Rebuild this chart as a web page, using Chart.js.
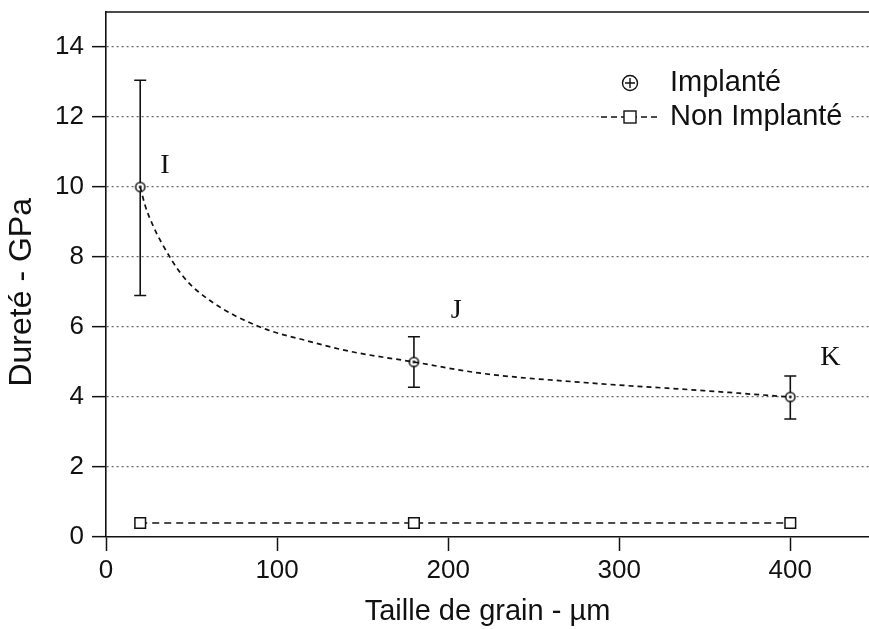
<!DOCTYPE html>
<html><head><meta charset="utf-8">
<script src="https://cdn.jsdelivr.net/npm/chart.js@4/dist/chart.umd.min.js"></script>
<style>html,body{margin:0;padding:0;background:#fff}#wrap{width:869px;height:629px;position:relative}</style>
</head><body><div id="wrap"><canvas id="c"></canvas></div>
<script>
// ---- data ----
const grainSizes = [20, 180, 400];
const hardnessImplanted = [10, 5.0, 4.0];
const errLow = [6.9, 4.28, 3.37];
const errHigh = [13.05, 5.72, 4.6];
const hardnessNonImplanted = [0.4, 0.4, 0.4];
const fitX = [20, 23, 27, 32, 45, 61, 90, 118, 143, 180, 219, 283, 347, 400];
const fitY = [10, 9.45, 8.95, 8.45, 7.45, 6.75, 6.0, 5.6, 5.3, 5.0, 4.68, 4.4, 4.19, 4.0];
const xTicks = [0, 100, 200, 300, 400];
const yTicks = [0, 2, 4, 6, 8, 10, 12, 14];
const pointLabels = ['I', 'J', 'K'];
const labelX = [34.5, 204.7, 423.4];
const labelY = [10.6, 6.47, 5.13];
const legendLabels = ['Implanté', 'Non Implanté'];
const xTitle = 'Taille de grain - µm';
const yTitle = 'Dureté - GPa\u00a0\u00a0\u00a0\u00a0';

const SANS = "'Liberation Sans', Arial, sans-serif";
const SERIF = "'Liberation Serif', 'Times New Roman', serif";
const INK = '#111';

// marker: circle with centre dot
const mk = document.createElement('canvas');
mk.width = 13; mk.height = 13;
(function(){
  const c = mk.getContext('2d');
  c.beginPath(); c.arc(6.5, 6.5, 4.6, 0, Math.PI*2);
  c.fillStyle = '#fff'; c.fill();
  c.lineWidth = 1.5; c.strokeStyle = INK; c.stroke();
  c.beginPath(); c.arc(6.5, 6.5, 1.4, 0, Math.PI*2); c.fillStyle = INK; c.fill();
})();

const errorBars = {
  id: 'errorBars',
  beforeDatasetsDraw(chart) {
    const {ctx, scales: {x, y}} = chart;
    ctx.save();
    ctx.strokeStyle = INK; ctx.lineWidth = 1.6; ctx.setLineDash([]);
    grainSizes.forEach((g, i) => {
      const px = x.getPixelForValue(g);
      const lo = y.getPixelForValue(errLow[i]);
      const hi = y.getPixelForValue(errHigh[i]);
      ctx.beginPath();
      ctx.moveTo(px, lo); ctx.lineTo(px, hi);
      ctx.moveTo(px - 6, lo); ctx.lineTo(px + 6, lo);
      ctx.moveTo(px - 6, hi); ctx.lineTo(px + 6, hi);
      ctx.stroke();
    });
    ctx.restore();
  }
};

const decorations = {
  id: 'decorations',
  afterDraw(chart) {
    const {ctx, chartArea: a, scales: {x, y}} = chart;
    ctx.save();
    // top frame line
    ctx.strokeStyle = INK; ctx.lineWidth = 1.6; ctx.setLineDash([]);
    ctx.beginPath(); ctx.moveTo(a.left, a.top); ctx.lineTo(a.right, a.top); ctx.stroke();
    // point labels
    ctx.fillStyle = INK; ctx.font = "28px " + SERIF;
    ctx.textAlign = 'center'; ctx.textBaseline = 'middle';
    pointLabels.forEach((t, i) => ctx.fillText(t, x.getPixelForValue(labelX[i]), y.getPixelForValue(labelY[i])));
    // legend
    const symX = a.right - 239, txtX = a.right - 199;
    const r1 = a.top + 71, r2 = a.top + 105;
    ctx.fillStyle = '#fff';
    ctx.fillRect(symX - 31, r2 - 10, 252, 20);
    // row 1 symbol: circle with plus
    ctx.strokeStyle = INK; ctx.lineWidth = 1.4;
    ctx.beginPath(); ctx.arc(symX, r1, 7.5, 0, Math.PI*2); ctx.stroke();
    ctx.beginPath();
    ctx.moveTo(symX - 5, r1); ctx.lineTo(symX + 5, r1);
    ctx.moveTo(symX, r1 - 5); ctx.lineTo(symX, r1 + 5);
    ctx.stroke();
    // row 2 symbol: dashed line + square
    ctx.setLineDash([6, 4]);
    ctx.beginPath(); ctx.moveTo(symX - 29, r2); ctx.lineTo(symX + 27, r2); ctx.stroke();
    ctx.setLineDash([]);
    ctx.fillStyle = '#fff';
    ctx.fillRect(symX - 6, r2 - 6, 12, 12);
    ctx.strokeRect(symX - 6, r2 - 6, 12, 12);
    ctx.fillStyle = INK; ctx.font = "29px " + SANS;
    ctx.textAlign = 'left';
    ctx.fillText(legendLabels[0], txtX, r1);
    ctx.fillText(legendLabels[1], txtX, r2);
    ctx.restore();
  }
};

new Chart(document.getElementById('c'), {
  type: 'scatter',
  data: {
    datasets: [
      {
        label: 'fit',
        data: fitX.map((v, i) => ({x: v, y: fitY[i]})),
        showLine: true, pointRadius: 0, borderColor: INK, borderWidth: 1.7,
        borderDash: [5, 4], cubicInterpolationMode: 'monotone', fill: false
      },
      {
        label: legendLabels[1],
        data: grainSizes.map((g, i) => ({x: g, y: hardnessNonImplanted[i]})),
        showLine: true, borderColor: INK, borderWidth: 1.5, borderDash: [7, 5],
        pointStyle: 'rect', pointRadius: 7.5, pointBackgroundColor: '#fff',
        pointBorderColor: INK, pointBorderWidth: 1.5
      },
      {
        label: legendLabels[0],
        data: grainSizes.map((g, i) => ({x: g, y: hardnessImplanted[i]})),
        showLine: false, pointStyle: mk, pointRadius: 6
      }
    ]
  },
  options: {
    responsive: true, maintainAspectRatio: false, animation: false,
    devicePixelRatio: 1,
    layout: {autoPadding: false, padding: {top: 12, right: 0, bottom: 0, left: 0}},
    plugins: {legend: {display: false}, tooltip: {enabled: false}},
    scales: {
      x: {
        type: 'linear', min: 0, max: 446,
        afterBuildTicks: s => { s.ticks = xTicks.map(v => ({value: v})); },
        afterFit: s => { s.height = 92; s.paddingLeft = 0; s.paddingRight = 0; },
        ticks: {font: {size: 26, family: SANS}, color: INK, padding: 4, maxRotation: 0},
        grid: {drawOnChartArea: false, drawTicks: true, tickLength: 14, tickColor: INK, tickWidth: 1.5, tickBorderDash: []},
        border: {color: INK, width: 1.6},
        title: {display: true, text: xTitle, font: {size: 29, family: SANS}, color: INK, padding: {top: 0, bottom: 0}}
      },
      y: {
        type: 'linear', min: 0, max: 15,
        afterBuildTicks: s => { s.ticks = yTicks.map(v => ({value: v})); },
        afterFit: s => { s.width = 106; s.paddingTop = 0; s.paddingBottom = 0; },
        ticks: {font: {size: 26, family: SANS}, color: INK, padding: 8},
        grid: {
          color: c => (c.tick && c.tick.value === 0) ? 'rgba(0,0,0,0)' : '#666',
          lineWidth: 1.3, drawTicks: true, tickLength: 14, tickColor: INK, tickWidth: 1.5, tickBorderDash: []
        },
        border: {color: INK, width: 1.6, dash: [2, 3]},
        title: {display: true, text: yTitle, font: {size: 32, family: SANS}, color: INK, padding: {top: 3, bottom: 0}}
      }
    }
  },
  plugins: [errorBars, decorations]
});
</script>
</body></html>
